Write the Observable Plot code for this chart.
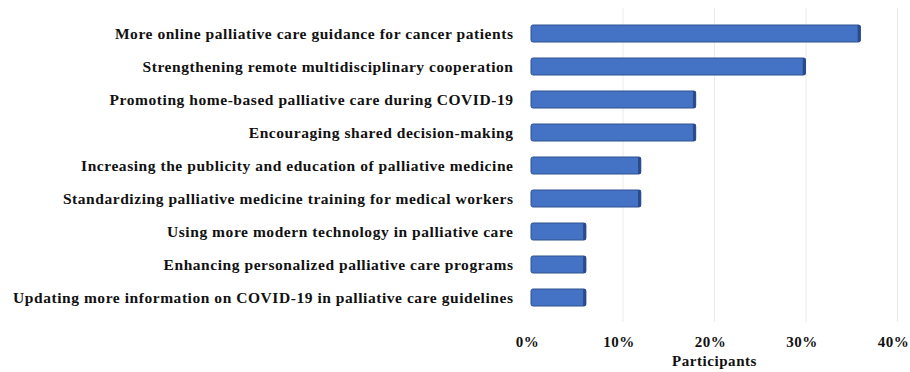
<!DOCTYPE html>
<html>
<head>
<meta charset="utf-8">
<script src="https://cdn.jsdelivr.net/npm/d3@7"></script>
<script src="https://cdn.jsdelivr.net/npm/@observablehq/plot@0.6"></script>
<style>
  html, body { margin: 0; padding: 0; background: #fff; }
  #chart svg { display: block; }
  #chart svg text { letter-spacing: 0.55px; }
</style>
</head>
<body>
<div id="chart"></div>
<script>
const categories = [
  "More online palliative care guidance for cancer patients",
  "Strengthening remote multidisciplinary cooperation",
  "Promoting home-based palliative care during COVID-19",
  "Encouraging shared decision-making",
  "Increasing the publicity and education of palliative medicine",
  "Standardizing palliative medicine training for medical workers",
  "Using more modern technology in palliative care",
  "Enhancing personalized palliative care programs",
  "Updating more information on COVID-19 in palliative care guidelines"
];
const values = [0.36, 0.30, 0.18, 0.18, 0.12, 0.12, 0.06, 0.06, 0.06];
const xTicks = [0, 0.1, 0.2, 0.3, 0.4];

const data = categories.map((c, i) => ({category: c, value: values[i]}));
const font = "'Liberation Serif', 'Times New Roman', serif";

const chart = Plot.plot({
  width: 910,
  height: 372,
  marginLeft: 531,
  marginRight: 13,
  marginTop: 8,
  marginBottom: 50,
  style: {fontFamily: font, fontSize: "16px", fontWeight: "bold", color: "#111", background: "#fff"},
  x: {domain: [0, 0.4], ticks: xTicks, tickFormat: d3.format(".0%"), label: "Participants"},
  y: {domain: categories, padding: 0.5, label: null},
  marks: [
    Plot.ruleX(xTicks.slice(1), {stroke: "#ebebeb", strokeWidth: 1}),
    Plot.barX(data, {x: "value", y: "category", fill: "#4472C4", stroke: "#2f528f", strokeWidth: 1, rx: 2}),
    Plot.barX(data, {x1: d => d.value - 0.003, x2: "value", y: "category", fill: "#2a4a8a", rx: 1}),
    Plot.axisY({tickSize: 0, tickPadding: 18, fontSize: 15.5}),
    Plot.axisX({ticks: xTicks, tickFormat: d3.format(".0%"), tickSize: 0, tickPadding: 14, dx: -4, fontSize: 15, label: null}),
    Plot.axisX({ticks: [], tickSize: 0, fontSize: 15, label: "Participants", labelAnchor: "center", labelArrow: "none", labelOffset: 43})
  ]
});
document.getElementById("chart").appendChild(chart);
</script>
</body>
</html>
